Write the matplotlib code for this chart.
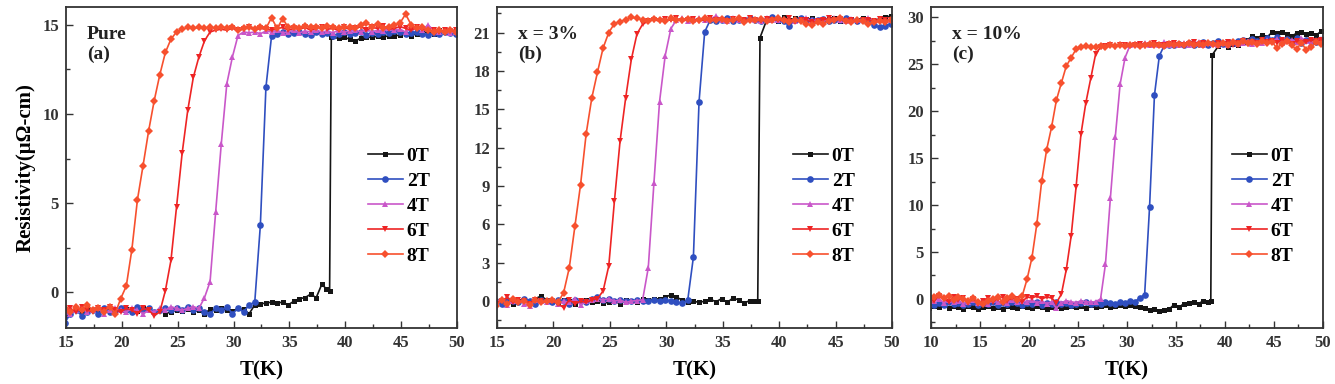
import matplotlib.pyplot as plt
from matplotlib.ticker import MultipleLocator

# temperature grids (K)
T_15_50 = [14.9, 15.4, 15.9, 16.4, 16.9, 17.4, 17.9, 18.4, 18.9, 19.4,
           19.9, 20.4, 20.9, 21.4, 21.9, 22.4, 22.9, 23.4, 23.9, 24.4,
           24.9, 25.4, 25.9, 26.4, 26.9, 27.4, 27.9, 28.4, 28.9, 29.4,
           29.9, 30.4, 30.9, 31.4, 31.9, 32.4, 32.9, 33.4, 33.9, 34.4,
           34.9, 35.4, 35.9, 36.4, 36.9, 37.4, 37.9, 38.4, 38.9, 39.4,
           39.9, 40.4, 40.9, 41.4, 41.9, 42.4, 42.9, 43.4, 43.9, 44.4,
           44.9, 45.4, 45.9, 46.4, 46.9, 47.4, 47.9, 48.4, 48.9, 49.4,
           49.9, 50.4]

T_a0 = [14.9, 15.4, 15.9, 16.4, 16.9, 17.4, 17.9, 18.4, 18.9, 19.4,
        19.9, 20.4, 20.9, 21.4, 21.9, 22.4, 22.9, 23.4, 23.9, 24.4,
        24.9, 25.4, 25.9, 26.4, 26.9, 27.4, 27.9, 28.4, 28.9, 29.4,
        29.9, 30.4, 30.9, 31.4, 31.9, 32.4, 32.9, 33.4, 33.9, 34.4,
        34.9, 35.4, 35.9, 36.4, 36.9, 37.4, 37.9, 38.3, 38.6, 38.75,
        39.4, 39.9, 40.4, 40.9, 41.4, 41.9, 42.4, 42.9, 43.4, 43.9, 44.4,
        44.9, 45.4, 45.9, 46.4, 46.9, 47.4, 47.9, 48.4, 48.9, 49.4, 49.9, 50.4]

T_b0 = [14.9, 15.4, 15.9, 16.4, 16.9, 17.4, 17.9, 18.4, 18.9, 19.4,
        19.9, 20.4, 20.9, 21.4, 21.9, 22.4, 22.9, 23.4, 23.9, 24.4,
        24.9, 25.4, 25.9, 26.4, 26.9, 27.4, 27.9, 28.4, 28.9, 29.4,
        29.9, 30.4, 30.9, 31.4, 31.9, 32.4, 32.9, 33.4, 33.9, 34.4,
        34.9, 35.4, 35.9, 36.4, 36.9, 37.4, 37.9, 38.1, 38.3,
        38.9, 39.4, 39.9, 40.4, 40.9, 41.4, 41.9, 42.4, 42.9, 43.4, 43.9, 44.4,
        44.9, 45.4, 45.9, 46.4, 46.9, 47.4, 47.9, 48.4, 48.9, 49.4, 49.9, 50.4]

T_c = [9.8, 10.3, 10.8, 11.3, 11.8, 12.3, 12.8, 13.3, 13.8, 14.3,
       14.8, 15.3, 15.8, 16.3, 16.8, 17.3, 17.8, 18.3, 18.8, 19.3,
       19.8, 20.3, 20.8, 21.3, 21.8, 22.3, 22.8, 23.3, 23.8, 24.3,
       24.8, 25.3, 25.8, 26.3, 26.8, 27.3, 27.8, 28.3, 28.8, 29.3,
       29.8, 30.3, 30.8, 31.3, 31.8, 32.3, 32.8, 33.3, 33.8, 34.3,
       34.8, 35.3, 35.8, 36.3, 36.8, 37.3, 37.8, 38.3, 38.8, 39.3,
       39.8, 40.3, 40.8, 41.3, 41.8, 42.3, 42.8, 43.3, 43.8, 44.3,
       44.8, 45.3, 45.8, 46.3, 46.8, 47.3, 47.8, 48.3, 48.8, 49.3,
       49.8, 50.3]

T_c0 = [9.8, 10.3, 10.8, 11.3, 11.8, 12.3, 12.8, 13.3, 13.8, 14.3,
        14.8, 15.3, 15.8, 16.3, 16.8, 17.3, 17.8, 18.3, 18.8, 19.3,
        19.8, 20.3, 20.8, 21.3, 21.8, 22.3, 22.8, 23.3, 23.8, 24.3,
        24.8, 25.3, 25.8, 26.3, 26.8, 27.3, 27.8, 28.3, 28.8, 29.3,
        29.8, 30.3, 30.8, 31.3, 31.8, 32.3, 32.8, 33.3, 33.8, 34.3,
        34.8, 35.3, 35.8, 36.3, 36.8, 37.3, 37.8, 38.3, 38.55, 38.7,
        39.3, 39.8, 40.3, 40.8, 41.3, 41.8, 42.3, 42.8, 43.3, 43.8, 44.3,
        44.8, 45.3, 45.8, 46.3, 46.8, 47.3, 47.8, 48.3, 48.8, 49.3, 49.8, 50.3]

# (a) Pure - resistivity (uOhm-cm)
R_a0 = [-1.3, -1.1, -1.0, -1.1, -0.9, -1.0, -1.05, -0.95, -1.0, -1.1,
        -1.0, -0.95, -1.0, -1.05, -0.9, -1.0, -1.1, -1.0, -1.2, -1.1,
        -1.0, -1.05, -0.95, -1.1, -1.0, -1.2, -0.95, -1.0, -0.9, -1.0,
        -1.05, -0.9, -0.95, -1.2, -0.7, -0.65, -0.6, -0.55, -0.6, -0.55,
        -0.7, -0.5, -0.35, -0.3, -0.1, -0.3, 0.45, 0.2, 0.1, 14.3,
        14.25, 14.3, 14.2, 14.1, 14.25, 14.3, 14.3, 14.35, 14.3, 14.4, 14.35,
        14.45, 14.5, 14.4, 14.5, 14.55, 14.6, 14.5, 14.7, 14.6, 14.65, 14.7, 14.7]
R_a2 = [-1.7, -1.2, -1.0, -1.3, -1.1, -1.0, -1.2, -0.9, -1.1, -1.0,
        -0.9, -1.0, -1.1, -0.8, -1.0, -0.9, -1.1, -1.0, -0.85, -1.0,
        -0.9, -1.0, -0.8, -1.0, -0.9, -1.1, -1.2, -0.9, -1.0, -0.8,
        -1.2, -0.9, -1.1, -0.7, -0.55, 3.75, 11.5, 14.35, 14.5, 14.6,
        14.5, 14.55, 14.6, 14.5, 14.45, 14.6, 14.5, 14.55, 14.4, 14.5,
        14.6, 14.5, 14.55, 14.6, 14.45, 14.55, 14.5, 14.6, 14.55, 14.65,
        14.6, 14.5, 14.55, 14.6, 14.5, 14.45, 14.55, 14.5, 14.6, 14.55,
        14.5, 14.55]
R_a4 = [-1.1, -1.2, -1.0, -0.9, -1.1, -1.0, -0.9, -1.2, -1.0, -0.9,
        -1.0, -1.1, -0.9, -1.0, -1.2, -1.0, -1.1, -0.9, -1.0, -0.8,
        -0.9, -1.0, -0.9, -0.8, -0.9, -0.3, 0.6, 4.5, 8.3, 11.7,
        13.2, 14.4, 14.6, 14.55, 14.6, 14.5, 14.65, 14.6, 14.7, 14.55,
        14.6, 14.7, 14.55, 14.65, 14.6, 14.7, 14.6, 14.65, 14.55, 14.7,
        14.6, 14.65, 14.7, 14.6, 14.75, 14.6, 14.7, 14.65, 14.8, 14.7,
        14.75, 14.6, 14.8, 14.9, 14.7, 15.0, 14.7, 14.6, 14.65, 14.55,
        14.6, 14.5]
R_a6 = [-1.0, -0.9, -1.1, -0.8, -1.0, -1.1, -0.9, -1.0, -0.8, -1.0,
        -1.1, -0.9, -1.0, -1.2, -0.9, -1.0, -1.3, -1.1, 0.1, 1.8,
        4.8, 7.8, 10.2, 12.05, 13.2, 14.1, 14.6, 14.7, 14.75, 14.7,
        14.8, 14.7, 14.75, 14.85, 14.7, 14.8, 14.75, 14.7, 14.8, 14.85,
        14.7, 14.8, 14.75, 14.85, 14.7, 14.8, 14.9, 14.75, 14.8, 14.7,
        14.85, 14.75, 14.8, 14.9, 14.7, 14.85, 14.8, 14.95, 14.75, 14.8,
        14.9, 14.8, 14.7, 14.85, 14.75, 14.65, 14.7, 14.6, 14.7, 14.65,
        14.7, 14.6]
R_a8 = [-0.9, -1.1, -0.8, -1.0, -0.7, -1.0, -0.9, -1.1, -0.8, -1.2,
        -0.35, 0.35, 2.4, 5.2, 7.1, 9.05, 10.75, 12.2, 13.45, 14.2,
        14.6, 14.75, 14.85, 14.8, 14.85, 14.8, 14.85, 14.8, 14.9, 14.8,
        14.9, 14.7, 14.8, 14.9, 14.75, 14.85, 14.8, 15.4, 14.8, 15.35,
        14.85, 14.9, 14.8, 14.95, 14.85, 14.9, 14.8, 14.95, 14.85, 14.8,
        14.9, 14.85, 14.8, 15.0, 15.1, 14.9, 15.05, 14.8, 14.9, 15.0,
        15.1, 15.6, 15.0, 14.8, 14.9, 14.7, 14.6, 14.7, 14.6, 14.7,
        14.6, 14.65]

# (b) x = 3%
R_b0 = [0.0, -0.1, 0.1, -0.2, 0.0, 0.1, -0.1, 0.2, 0.4, 0.1,
        0.0, -0.1, 0.1, 0.0, -0.2, 0.0, 0.1, -0.1, 0.0, -0.15,
        -0.1, 0.0, -0.2, 0.1, 0.0, -0.1, 0.2, 0.1, 0.15, 0.2,
        0.3, 0.5, 0.3, 0.1, -0.1, 0.0, -0.1, 0.0, 0.15, -0.05,
        0.2, -0.1, 0.25, 0.1, -0.15, 0.05, 0.0, 0.05, 20.6,
        22.0, 22.1, 21.9, 22.2, 22.0, 22.1, 21.95, 22.05, 22.1, 21.9, 22.0, 22.05,
        22.1, 21.9, 22.0, 22.05, 21.95, 22.1, 22.0, 21.9, 22.1, 22.2, 22.3, 22.0]
R_b2 = [0.0, -0.2, 0.1, 0.0, -0.1, 0.2, 0.0, -0.2, 0.1, 0.0,
        -0.1, 0.1, 0.0, -0.2, 0.1, 0.0, -0.1, 0.2, 0.3, 0.1,
        0.2, 0.0, 0.1, 0.05, 0.0, 0.1, 0.05, 0.0, 0.1, 0.0,
        0.1, 0.0, -0.1, -0.15, 0.1, 3.45, 15.6, 21.05, 22.0, 21.9,
        22.0, 22.1, 21.9, 22.0, 21.95, 22.1, 22.0, 21.9, 22.05, 22.2,
        22.0, 21.9, 21.5, 22.0, 22.1, 21.9, 22.0, 21.95, 22.05, 21.9,
        22.0, 21.95, 22.1, 22.0, 21.9, 22.0, 21.8, 21.6, 21.4, 21.5,
        21.7, 21.9]
R_b4 = [-0.1, 0.2, -0.3, 0.0, 0.1, -0.2, -0.4, 0.1, 0.0, -0.1,
        0.1, -0.2, 0.0, -0.1, 0.2, -0.3, 0.0, 0.1, 0.2, 0.1,
        0.2, 0.0, 0.1, -0.1, 0.0, 0.05, 0.1, 2.6, 9.2, 15.6,
        19.2, 21.3, 22.0, 22.1, 21.9, 22.0, 22.1, 21.95, 22.05, 22.3,
        22.0, 21.9, 22.1, 22.0, 21.95, 22.05, 22.0, 21.9, 22.1, 22.0,
        21.95, 22.05, 22.0, 21.9, 22.0, 22.1, 21.95, 22.0, 21.9, 22.05,
        22.1, 22.0, 21.9, 22.05, 21.95, 22.0, 22.1, 21.9, 22.0, 21.95,
        22.0, 21.9]
R_b6 = [-0.2, 0.0, 0.3, -0.1, 0.1, 0.0, -0.2, 0.1, 0.0, -0.1,
        0.0, -0.2, -0.5, 0.1, -0.2, 0.0, -0.1, 0.1, 0.2, 0.8,
        2.75, 7.8, 12.5, 15.9, 18.9, 20.9, 21.65, 21.9, 22.0, 21.9,
        22.05, 21.95, 22.1, 21.9, 22.0, 22.05, 21.9, 22.0, 22.1, 21.95,
        22.0, 21.9, 22.05, 22.0, 21.95, 22.1, 22.0, 21.9, 22.05, 21.95,
        22.0, 21.9, 22.1, 21.85, 21.95, 22.0, 21.8, 21.9, 22.0, 22.1,
        21.95, 22.05, 21.9, 22.0, 21.85, 21.95, 22.0, 21.9, 22.05, 21.95,
        22.0, 22.05]
R_b8 = [-0.4, 0.1, -0.2, 0.2, -0.1, 0.0, -0.3, 0.1, -0.1, 0.0,
        0.1, -0.1, 0.66, 2.6, 5.85, 9.1, 13.1, 15.9, 17.9, 19.8,
        21.0, 21.7, 21.85, 22.0, 22.2, 22.1, 22.0, 21.9, 22.05, 22.0,
        21.9, 22.1, 22.0, 21.95, 22.05, 21.9, 22.0, 22.1, 21.95, 22.0,
        22.05, 21.9, 22.0, 22.1, 21.85, 22.0, 21.95, 22.05, 21.9, 22.0,
        22.1, 21.95, 21.8, 22.0, 21.9, 21.7, 21.6, 21.8, 21.7, 21.9,
        22.0, 22.1, 21.9, 21.8, 22.0, 21.9, 21.7, 21.8, 21.9, 21.85,
        22.0, 21.9]

# (c) x = 10%
R_c0 = [-1.0, -0.8, -0.9, -0.7, -1.0, -0.8, -0.9, -1.1, -0.8, -0.9,
        -1.1, -0.9, -0.8, -1.0, -0.9, -1.1, -0.8, -0.9, -1.0, -0.8,
        -0.9, -1.0, -0.8, -0.9, -1.1, -0.9, -0.8, -1.0, -0.9, -0.8,
        -0.9, -0.8, -1.0, -0.7, -0.9, -0.8, -0.7, -0.9, -0.8, -0.7,
        -0.8, -0.7, -0.8, -0.9, -1.0, -1.2, -1.1, -1.3, -1.2, -1.1,
        -0.6, -0.9, -0.5, -0.4, -0.3, -0.5, -0.2, -0.3, -0.2, 26.0,
        26.9, 27.3, 26.8, 27.2, 27.0, 27.4, 27.6, 28.0, 27.8, 28.1, 27.9,
        28.4, 28.3, 28.4, 28.2, 28.0, 28.3, 28.4, 28.2, 28.3, 28.1, 28.5, 28.7]
R_c2 = [-0.5, -0.7, -0.4, -0.6, -0.3, -0.5, -0.4, -0.6, -0.5, -0.3,
        -0.6, -0.4, -0.5, -0.3, -0.6, -0.4, -0.5, -0.3, -0.4, -0.6,
        -0.4, -0.5, -0.3, -0.6, -0.4, -0.5, -0.3, -0.5, -0.4, -0.6,
        -0.5, -0.4, -0.3, -0.5, -0.4, -0.5, -0.3, -0.4, -0.5, -0.3,
        -0.4, -0.2, -0.3, 0.1, 0.46, 9.75, 21.7, 25.9, 27.0, 27.1,
        27.0, 27.2, 27.1, 27.3, 27.0, 27.2, 27.4, 27.1, 27.3, 27.5,
        27.2, 27.4, 27.3, 27.5, 27.6, 27.4, 27.7, 27.5, 27.6, 27.8,
        27.6, 27.9, 27.5, 27.7, 27.4, 27.8, 27.3, 27.6, 27.5, 27.4,
        27.6, 27.8]
R_c4 = [-0.5, -0.2, 0.0, -0.4, -0.1, -0.3, -0.2, -0.5, -0.3, -0.1,
        -0.4, -0.2, -0.5, -0.1, -0.3, -0.2, -0.4, -0.1, -0.3, -0.2,
        -0.3, -0.1, -0.4, -0.2, -0.5, -0.3, -1.0, -0.4, -0.2, -0.3,
        -0.4, -0.2, -0.3, -0.35, -0.3, 0.0, 3.7, 10.7, 17.2, 22.9,
        25.7, 27.0, 27.2, 27.0, 27.3, 27.1, 27.2, 27.0, 27.4, 27.1,
        27.2, 27.0, 27.3, 27.1, 27.2, 27.4, 27.1, 27.3, 27.2, 27.0,
        27.3, 27.1, 27.4, 27.2, 27.3, 27.5, 27.2, 27.4, 27.3, 27.6,
        27.5, 27.7, 27.3, 27.5, 27.6, 27.4, 27.8, 27.5, 27.3, 27.6,
        27.7, 27.5]
R_c6 = [0.1, -0.2, 0.3, 0.0, -0.3, 0.2, -0.1, 0.1, -0.4, 0.0,
        -0.5, -0.2, 0.1, -0.3, 0.0, 0.2, -0.2, 0.1, 0.0, -0.3,
        0.2, 0.1, 0.3, 0.0, 0.2, 0.1, -0.4, 0.5, 3.1, 6.7,
        11.9, 17.55, 20.9, 23.5, 26.1, 26.8, 26.9, 27.0, 26.8, 27.1,
        27.0, 26.9, 27.1, 27.2, 26.9, 27.0, 27.3, 27.1, 27.0, 27.2,
        27.3, 27.1, 27.0, 27.2, 27.4, 27.1, 27.3, 27.2, 27.0, 27.3,
        27.2, 27.4, 27.1, 27.3, 27.5, 27.2, 27.4, 27.3, 27.6, 27.4,
        27.5, 27.3, 27.6, 27.4, 27.2, 27.5, 27.3, 27.4, 27.6, 27.5,
        27.6, 27.4]
R_c8 = [-0.3, 0.2, 0.4, 0.1, 0.3, -0.1, 0.2, 0.0, -0.2, 0.1,
        -0.3, -0.5, -0.2, 0.0, 0.2, -0.3, 0.1, 0.3, -0.1, 0.3,
        2.1, 4.4, 8.0, 12.6, 15.9, 18.3, 21.2, 23.0, 24.8, 25.7,
        26.6, 26.8, 26.9, 26.8, 26.85, 26.9, 26.8, 27.0, 26.9, 27.0,
        26.9, 27.1, 27.0, 26.9, 27.0, 27.2, 27.0, 27.1, 26.9, 27.2,
        27.0, 27.2, 27.1, 27.3, 27.0, 27.2, 27.1, 27.3, 27.2, 27.0,
        27.3, 27.1, 27.4, 27.2, 27.5, 27.3, 27.4, 27.2, 27.5, 27.3,
        27.4, 26.7, 27.2, 27.5, 27.0, 26.6, 27.3, 26.5, 26.8, 27.4,
        27.2, 27.5]

fields = ['0T', '2T', '4T', '6T', '8T']
colors = ['#151515', '#2f4fc0', '#c957c9', '#ee2424', '#f7502e']
markers = ['s', 'o', '^', 'v', 'D']
msizes = [3.6, 4.8, 5.0, 5.0, 4.0]

plt.rcParams['font.family'] = ['Liberation Serif', 'DejaVu Serif']
plt.rcParams['font.weight'] = 'bold'

fig = plt.figure(figsize=(13.35, 3.84), dpi=100)

panels = [
    dict(rect=[0.0494, 0.1458, 0.2929, 0.836],
         data=[(T_a0, R_a0), (T_15_50, R_a2), (T_15_50, R_a4), (T_15_50, R_a6), (T_15_50, R_a8)],
         xlim=(15, 50), ylim=(-2, 16), ymaj=5, note="Pure\n(a)", leg=(0.93, 0.38)),
    dict(rect=[0.3723, 0.1458, 0.2959, 0.836],
         data=[(T_b0, R_b0), (T_15_50, R_b2), (T_15_50, R_b4), (T_15_50, R_b6), (T_15_50, R_b8)],
         xlim=(15, 50), ylim=(-2.1, 23), ymaj=3, note="x = 3%\n(b)", leg=(0.905, 0.38)),
    dict(rect=[0.6974, 0.1458, 0.2936, 0.836],
         data=[(T_c0, R_c0), (T_c, R_c2), (T_c, R_c4), (T_c, R_c6), (T_c, R_c8)],
         xlim=(10, 50), ylim=(-3.1, 31.1), ymaj=5, note="x = 10%\n(c)", leg=(0.925, 0.38)),
]

for i, p in enumerate(panels):
    ax = fig.add_axes(p['rect'])
    for (T, R), lab, c, m, ms in zip(p['data'], fields, colors, markers, msizes):
        ax.plot(T, R, color=c, marker=m, markersize=ms, linewidth=1.2,
                markeredgewidth=0, label=lab)
    ax.set_xlim(*p['xlim'])
    ax.set_ylim(*p['ylim'])
    ax.xaxis.set_major_locator(MultipleLocator(5))
    ax.xaxis.set_minor_locator(MultipleLocator(2.5))
    ax.yaxis.set_major_locator(MultipleLocator(p['ymaj']))
    ax.yaxis.set_minor_locator(MultipleLocator(p['ymaj'] / 2))
    ax.tick_params(which='both', direction='in', top=False, right=False,
                   colors='#333333', labelsize=12, width=1.0)
    ax.tick_params(which='major', length=5, pad=5)
    ax.tick_params(which='minor', length=3)
    for lbl in ax.get_xticklabels() + ax.get_yticklabels():
        lbl.set_fontweight('bold')
    for s in ax.spines.values():
        s.set_color('#333333')
        s.set_linewidth(1.3)
    ax.set_xlabel("T(K)", fontsize=15, fontweight='bold', labelpad=7)
    if i == 0:
        ax.set_ylabel("Resistivity(μΩ-cm)", fontsize=15, fontweight='bold', labelpad=5)
    ax.text(0.054, 0.94, p['note'], transform=ax.transAxes, fontsize=14,
            fontweight='bold', va='top', ha='left', linespacing=1.2, color='#222222')
    ax.legend(loc='center right', bbox_to_anchor=p['leg'], frameon=False,
              prop={'size': 14, 'weight': 'bold'}, handlelength=1.8,
              handletextpad=0.2, labelspacing=0.38, borderpad=0, borderaxespad=0,
              markerscale=1.0)

fig.savefig('out.png', dpi=100)
